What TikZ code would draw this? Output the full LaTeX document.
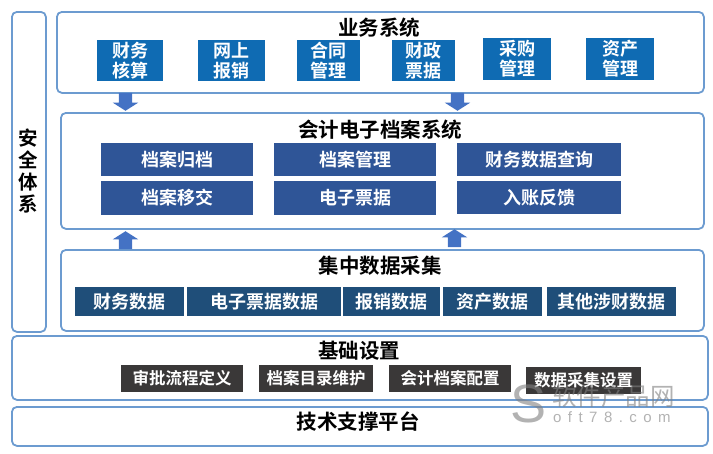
\documentclass[tikz,border=0pt]{standalone}
\usepackage{fontspec}
\setmainfont{Noto Sans CJK SC Bold}
\newfontfamily\markcjk{Noto Sans CJK SC}
\newfontfamily\marklat{Liberation Sans}
\newfontfamily\markwide[LetterSpace=43]{Liberation Sans}
\usetikzlibrary{shapes.arrows}
\definecolor{panelline}{HTML}{6C9BD0}
\definecolor{bizblue}{HTML}{0F6BB3}
\definecolor{arcblue}{HTML}{2F5597}
\definecolor{datablue}{HTML}{1F4E79}
\definecolor{setgray}{HTML}{3A3838}
\definecolor{arrowblue}{HTML}{4472C4}
\tikzset{
  panel/.style = {draw=panelline, line width=1.8pt, rounded corners=5pt,
    fill=white, anchor=north west, inner sep=0pt},% outer frame
  paneltitle/.style = {black, font=\fontsize{20.5}{22}\selectfont, inner sep=0pt},
  boxnode/.style = {white, align=center, inner sep=0pt, text centered,
    font=\fontsize{18}{20}\selectfont},
  biz/.style = {boxnode, fill=bizblue, minimum height=41.5pt},% business
  arc/.style = {boxnode, fill=arcblue, minimum height=33.5pt},% archive
  dat/.style = {boxnode, fill=datablue, minimum height=29pt},% data
  cfg/.style = {boxnode, fill=setgray, minimum height=27pt,
    font=\fontsize{16.5}{18}\selectfont},% settings
  blockarrow/.style = {single arrow, fill=arrowblue, draw=none, inner xsep=6.5pt,
    inner ysep=0pt, minimum height=18pt, single arrow head extend=6pt,
    single arrow tip angle=115, anchor=tip},
  mark78/.style = {black!50, opacity=0.6, inner sep=0pt}% watermark
}
\begin{document}
\begin{tikzpicture}[x=1pt,y=-1pt]
\useasboundingbox (0,0) rectangle (713,453);
% frames
\node [panel, minimum width=34pt, minimum height=320pt] (safe) at (11,11) {};
\node [panel, minimum width=647pt, minimum height=81pt] (bizpanel) at (56,11) {};
\node [panel, minimum width=643pt, minimum height=116pt] (arcpanel) at (60,112) {};
\node [panel, minimum width=643pt, minimum height=81pt] (datpanel) at (60,249) {};
\node [panel, minimum width=696pt, minimum height=64pt] (cfgpanel) at (11,335) {};
\node [panel, minimum width=696pt, minimum height=39pt] (basepanel) at (11,406) {};
% titles
\node [paneltitle, align=center, font=\fontsize{19.5}{22}\selectfont] (safetitle) at (28,171) {安\\全\\体\\系};
\node [paneltitle] (biztitle) at (379,28) {业务系统};
\node [paneltitle] (arctitle) at (380,130) {会计电子档案系统};
\node [paneltitle] (dattitle) at (380,266) {集中数据采集};
\node [paneltitle] (cfgtitle) at (359,351) {基础设置};
\node [paneltitle] (basetitle) at (358,422) {技术支撑平台};
% business systems
\node [biz, minimum width=66pt] (caiwu) at (130,60.5) {财务\\核算};
\node [biz, minimum width=67pt] (wangshang) at (231.5,60.5) {网上\\报销};
\node [biz, minimum width=63pt] (hetong) at (328.5,60.5) {合同\\管理};
\node [biz, minimum width=63pt] (caizheng) at (423,60.5) {财政\\票据};
\node [biz, minimum width=68pt] (caigou) at (517,59) {采购\\管理};
\node [biz, minimum width=68pt] (zichan) at (620,59) {资产\\管理};
% archive system
\node [arc, minimum width=152pt] (guidang) at (177,159.5) {档案归档};
\node [arc, minimum width=162pt] (guanli) at (355,159.5) {档案管理};
\node [arc, minimum width=164pt] (chaxun) at (539,159.5) {财务数据查询};
\node [arc, minimum width=152pt] (yijiao) at (177,198) {档案移交};
\node [arc, minimum width=162pt] (piaoju) at (355,198) {电子票据};
\node [arc, minimum width=164pt] (fankui) at (539,197.5) {入账反馈};
% data collection
\node [dat, minimum width=109pt] (d1) at (129.5,301.5) {财务数据};
\node [dat, minimum width=154pt] (d2) at (264,301.5) {电子票据数据};
\node [dat, minimum width=97pt] (d3) at (391.5,301.5) {报销数据};
\node [dat, minimum width=99pt] (d4) at (492.5,301.5) {资产数据};
\node [dat, minimum width=129pt] (d5) at (611.5,301.5) {其他涉财数据};
% settings
\node [cfg, minimum width=122pt] (s1) at (182,378.5) {审批流程定义};
\node [cfg, minimum width=114pt] (s2) at (316,378.5) {档案目录维护};
\node [cfg, minimum width=122pt] (s3) at (450,378.5) {会计档案配置};
\node [cfg, minimum width=115pt] (s4) at (583.5,380) {数据采集设置};
% arrows
\node [blockarrow, shape border rotate=270] (down1) at (125.5,111) {};
\node [blockarrow, shape border rotate=270] (down2) at (457.5,111) {};
\node [blockarrow, shape border rotate=90] (up1) at (125.5,231) {};
\node [blockarrow, shape border rotate=90] (up2) at (454.5,229) {};
% watermark
\node [mark78, font=\marklat\fontsize{54}{54}\selectfont] (markS) at (528.5,404) {S};
\node [mark78, font=\markcjk\fontsize{24.5}{26}\selectfont, anchor=west] (marktop) at (552,396) {软件产品网};
\node [mark78, font=\markwide\fontsize{15}{16}\selectfont, anchor=west] (markbot) at (553,417) {oft78.com};
\end{tikzpicture}
\end{document}
